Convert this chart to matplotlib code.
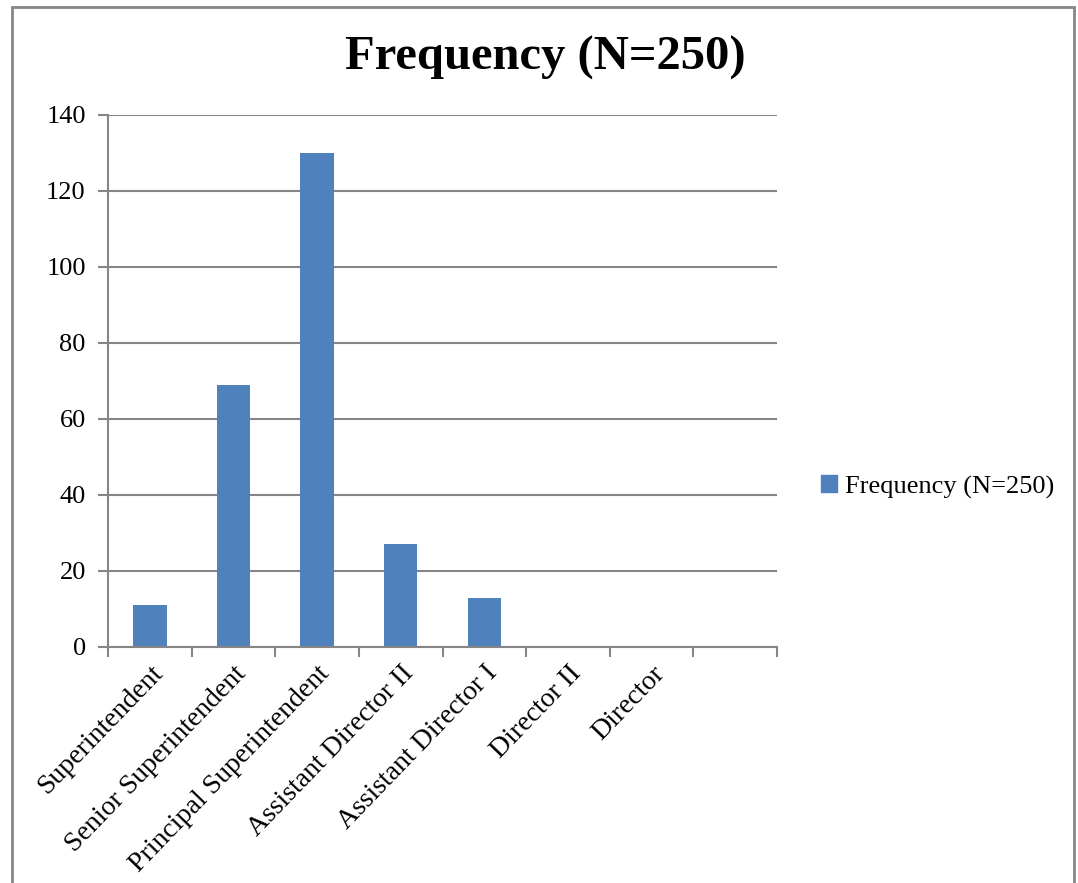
import matplotlib
matplotlib.use("Agg")
import matplotlib.pyplot as plt
from matplotlib.patches import Rectangle, Patch
import numpy as np

# data
categories = ["Superintendent", "Senior Superintendent", "Principal Superintendent",
              "Assistant Director II", "Assistant Director I", "Director II", "Director", ""]
values = [11, 69, 130, 27, 13, 0, 0, np.nan]
series_name = "Frequency (N=250)"
y_ticks = [0, 20, 40, 60, 80, 100, 120, 140]

bar_color = "#4F81BD"
grid_color = "#868686"

plt.rcParams["font.family"] = ["Liberation Serif", "DejaVu Serif"]

fig = plt.figure(figsize=(10.78, 8.83), dpi=100)
ax = fig.add_axes([0.1002, 0.2673, 0.6206, 0.6025])

x = np.arange(len(categories)) + 0.5
ax.bar(x, values, width=0.4, color=bar_color, zorder=3)

ax.set_xlim(0, len(categories))
ax.set_ylim(y_ticks[0], y_ticks[-1])
ax.set_yticks(y_ticks)
ax.yaxis.grid(True, color=grid_color, linewidth=1.5, zorder=0)

# boundary ticks, labels on the category centres
ax.set_xticks(np.arange(len(categories) + 1))
ax.set_xticklabels([])
ax.set_xticks(x, minor=True)
ax.set_xticklabels(categories, minor=True, rotation=46, ha="right", va="top",
                   rotation_mode="anchor", fontsize=20)
ax.tick_params(axis="x", which="minor", length=0, pad=10)
ax.tick_params(axis="x", which="major", length=7, width=1.5, color=grid_color)
ax.tick_params(axis="y", length=7, width=1.5, color=grid_color, labelsize=19, pad=9)

for s in ["top", "right"]:
    ax.spines[s].set_visible(False)
for s in ["left", "bottom"]:
    ax.spines[s].set_color(grid_color)
    ax.spines[s].set_linewidth(1.5)
    ax.spines[s].set_zorder(4)

fig.text(0.5056, 0.935, series_name, ha="center", va="center",
         fontsize=35, fontweight="bold")

fig.legend(handles=[Patch(color=bar_color, label=series_name)],
           loc="center left", bbox_to_anchor=(0.74, 0.4485), frameon=False,
           fontsize=19, handlelength=0.6, handleheight=0.6, handletextpad=0.3)

# outer chart border (bottom edge falls outside the picture)
fig.patches.append(Rectangle((12 / 1078, -0.05), (1074 - 12) / 1078, 0.05 + 1 - 7 / 883,
                             transform=fig.transFigure, fill=False,
                             edgecolor=grid_color, linewidth=2))

fig.savefig("out.png", dpi=100)
